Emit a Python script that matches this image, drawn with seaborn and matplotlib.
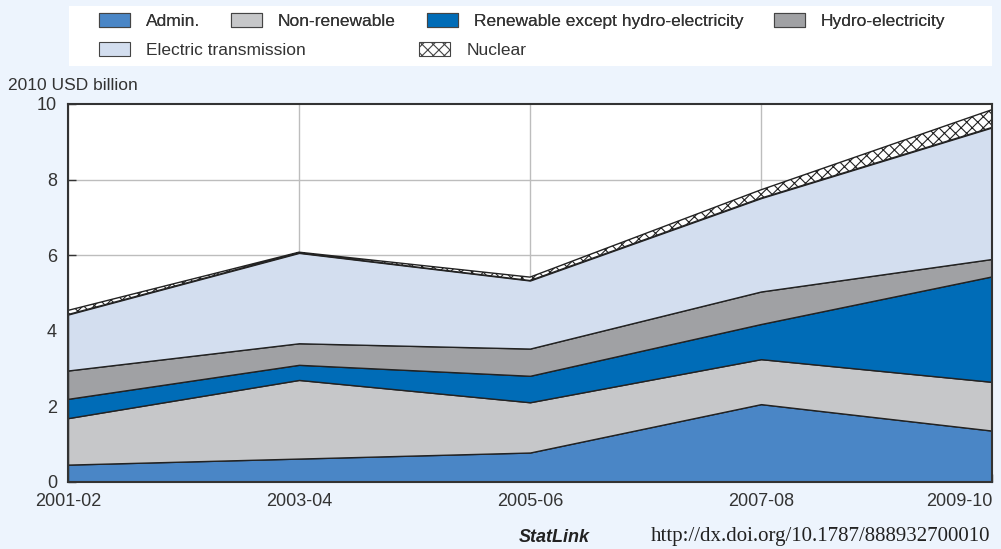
import numpy as np
import matplotlib.pyplot as plt
import seaborn as sns
from matplotlib.patches import Patch, Rectangle

periods = ["2001-02", "2003-04", "2005-06", "2007-08", "2009-10"]

admin = [0.46, 0.62, 0.78, 2.06, 1.36]
non_renewable = [1.23, 2.08, 1.33, 1.19, 1.29]
renewable = [0.51, 0.40, 0.70, 0.93, 2.79]
hydro = [0.75, 0.57, 0.72, 0.86, 0.46]
transmission = [1.48, 2.39, 1.80, 2.47, 3.48]
nuclear = [0.11, 0.02, 0.09, 0.22, 0.47]

names = ["Admin.", "Non-renewable", "Renewable except hydro-electricity",
         "Hydro-electricity", "Electric transmission", "Nuclear"]
colors = ["#4a86c6", "#c6c7c9", "#006cb7", "#a0a1a4", "#d3deef", "white"]

sns.set_style("white")
plt.rcParams["font.family"] = ["Liberation Sans", "DejaVu Sans"]
plt.rcParams["hatch.linewidth"] = 0.8

bg = "#edf4fd"
txt = "#333333"
edge = "#222222"

fig = plt.figure(figsize=(10.01, 5.49), dpi=100, facecolor=bg)
ax = fig.add_axes([68 / 1001, 1 - 482 / 549, (992 - 68) / 1001, (482 - 104) / 549])
ax.set_facecolor("white")

x = np.arange(len(periods))
polys = ax.stackplot(x, admin, non_renewable, renewable, hydro, transmission, nuclear,
                     colors=colors, edgecolor=edge, linewidth=1.0, zorder=2)
polys[-1].set_hatch("xxx")

ax.set_xlim(0, 4)
ax.set_ylim(0, 10)
ax.set_xticks(x)
ax.set_xticklabels(periods)
ax.set_yticks([0, 2, 4, 6, 8, 10])

# grid below the areas
for xv in x:
    ax.axvline(xv, color="#bdbdbd", lw=1, zorder=0.5)
for yv in [2, 4, 6, 8]:
    ax.axhline(yv, color="#bdbdbd", lw=1, zorder=0.5)

ax.tick_params(axis="both", direction="in", length=6, width=1, color=txt,
               labelsize=13, labelcolor=txt, bottom=True, left=True)
ax.tick_params(axis="x", pad=8)
ax.tick_params(axis="y", pad=8)
ax.get_xticklabels()[-1].set_ha("right")

for s in ax.spines.values():
    s.set_color(txt)
    s.set_linewidth(1.5)
    s.set_zorder(3)

fig.text(8 / 1001, 1 - 85 / 549, "2010 USD billion", ha="left", va="center",
         fontsize=12.5, color=txt)

# legend box
fig.patches.append(Rectangle((69 / 1001, 1 - 66 / 549), 923 / 1001, 60 / 549,
                             transform=fig.transFigure, facecolor="white",
                             edgecolor="none", zorder=0))

handles = [Patch(facecolor=c, edgecolor="#444444", linewidth=0.8, label=n)
           for c, n in zip(colors, names)]
handles[-1].set_hatch("xxx")

leg_kw = dict(frameon=False, fontsize=12.5, labelcolor=txt, borderpad=0,
              borderaxespad=0, handlelength=1.78, handleheight=0.86,
              handletextpad=0.92, loc="center left")
leg1 = fig.legend(handles=handles[:4], ncol=4, columnspacing=1.78,
                  bbox_to_anchor=(99 / 1001, 1 - 21 / 549), **leg_kw)
leg2 = fig.legend(handles=handles[4:], ncol=2, columnspacing=6.55,
                  bbox_to_anchor=(99 / 1001, 1 - 50 / 549), **leg_kw)
fig.add_artist(leg1)

fig.text(590 / 1001, 1 - 537 / 549, "StatLink", ha="right", va="center",
         fontsize=13, fontstyle="italic", fontweight="bold", color="#222222")
fig.text(990 / 1001, 1 - 537 / 549, "http://dx.doi.org/10.1787/888932700010",
         ha="right", va="center", fontsize=15, color="#222222",
         family=["Liberation Serif", "DejaVu Serif"])

fig.savefig("out.png", dpi=100, facecolor=bg)
